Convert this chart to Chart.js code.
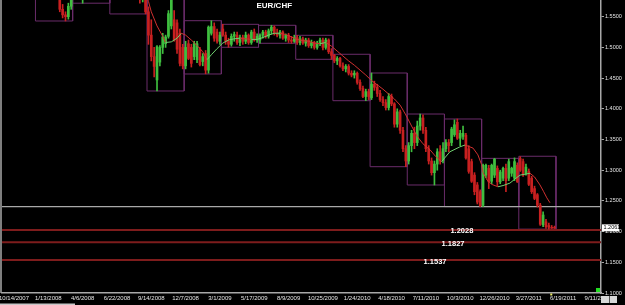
<!DOCTYPE html>
<html><head><meta charset="utf-8">
<script src="https://cdn.jsdelivr.net/npm/chart.js@4.4.0/dist/chart.umd.min.js"></script>
<style>html,body{margin:0;padding:0;background:#000;overflow:hidden}#wrap{width:625px;height:305px;position:relative}canvas{display:block}</style>
</head><body><div id="wrap"><canvas id="c" width="625" height="305" style="width:625px;height:305px"></canvas></div>
<script>
// ---- data (weekly bars, index 0 = 10/14/2007) ----
const chartTitle = "EUR/CHF";
const firstBar = 8;
const opens = [1.655,1.660,1.652,1.645,1.650,1.635,1.620,1.605,1.598,1.562,1.553,1.550,1.567,
1.590,1.600,1.595,1.585,1.592,1.605,1.615,1.610,1.612,1.622,1.615,1.620,1.630,
1.625,1.620,1.615,1.620,1.628,1.635,1.628,1.620,1.612,1.605,1.598,1.578,1.598,
1.558,1.520,1.485,1.447,1.476,1.500,1.506,1.518,1.535,1.545,1.540,1.523,1.500,
1.470,1.506,1.500,1.485,1.480,1.496,1.477,1.490,1.463,1.523,1.534,1.525,1.510,
1.530,1.520,1.510,1.505,1.518,1.520,1.508,1.516,1.510,1.520,1.508,1.525,1.512,
1.512,1.520,1.525,1.518,1.527,1.533,1.523,1.520,1.525,1.515,1.520,1.512,1.510,
1.516,1.508,1.514,1.507,1.512,1.503,1.508,1.500,1.507,1.512,1.500,1.512,1.493,
1.487,1.478,1.482,1.470,1.465,1.469,1.458,1.455,1.458,1.443,1.433,1.420,1.428,
1.418,1.440,1.435,1.425,1.415,1.410,1.402,1.420,1.408,1.375,1.395,1.365,1.335,
1.315,1.340,1.360,1.345,1.372,1.385,1.365,1.335,1.315,1.296,1.310,1.330,1.316,
1.335,1.345,1.345,1.358,1.378,1.352,1.355,1.357,1.335,1.314,1.292,1.276,1.265,
1.243,1.292,1.303,1.282,1.292,1.303,1.281,1.287,1.303,1.287,1.295,1.287,1.308,
1.319,1.314,1.295,1.298,1.287,1.270,1.260,1.243,1.211,1.216,1.210,1.207,1.207];
const highs = [1.665,1.668,1.660,1.655,1.658,1.645,1.630,1.615,1.605,1.570,1.558,1.572,1.595,
1.605,1.612,1.600,1.598,1.608,1.620,1.625,1.618,1.628,1.630,1.625,1.635,1.640,
1.635,1.630,1.625,1.632,1.640,1.642,1.635,1.630,1.620,1.612,1.610,1.602,1.605,
1.566,1.545,1.500,1.503,1.503,1.523,1.520,1.560,1.580,1.560,1.545,1.530,1.505,
1.510,1.512,1.505,1.510,1.510,1.500,1.490,1.495,1.535,1.5435,1.540,1.530,1.525,
1.5376,1.525,1.515,1.522,1.525,1.525,1.520,1.520,1.525,1.522,1.528,1.530,1.522,
1.522,1.528,1.528,1.530,1.536,1.535,1.530,1.528,1.527,1.522,1.523,1.518,1.520,
1.5197,1.518,1.517,1.515,1.515,1.512,1.510,1.510,1.515,1.515,1.515,1.514,1.498,
1.4888,1.485,1.484,1.475,1.472,1.472,1.462,1.462,1.460,1.447,1.437,1.432,1.432,
1.4583,1.445,1.440,1.430,1.420,1.415,1.425,1.424,1.410,1.400,1.398,1.370,1.340,
1.345,1.365,1.370,1.380,1.3915,1.390,1.370,1.340,1.320,1.315,1.335,1.340,1.345,
1.350,1.350,1.370,1.382,1.3834,1.365,1.372,1.360,1.340,1.318,1.296,1.280,1.268,
1.310,1.310,1.308,1.310,1.3193,1.307,1.300,1.305,1.310,1.318,1.305,1.320,1.312,
1.322,1.318,1.310,1.302,1.290,1.274,1.262,1.246,1.232,1.220,1.214,1.210,1.209];
const lows = [1.645,1.650,1.640,1.635,1.630,1.615,1.600,1.590,1.558,1.548,1.543,1.546,1.562,
1.585,1.590,1.578,1.572,1.588,1.600,1.605,1.600,1.608,1.610,1.605,1.615,1.620,
1.615,1.610,1.605,1.612,1.620,1.622,1.615,1.608,1.600,1.590,1.572,1.574,1.5545,
1.505,1.478,1.452,1.429,1.470,1.490,1.500,1.515,1.530,1.510,1.490,1.470,1.465,
1.465,1.480,1.468,1.480,1.475,1.470,1.470,1.457,1.458,1.520,1.510,1.507,1.505,
1.518,1.505,1.5002,1.502,1.510,1.505,1.503,1.505,1.506,1.505,1.505,1.510,1.508,
1.507,1.515,1.515,1.515,1.522,1.520,1.517,1.515,1.513,1.510,1.508,1.5067,1.508,
1.505,1.504,1.505,1.502,1.500,1.499,1.497,1.497,1.503,1.496,1.497,1.490,1.4806,
1.475,1.472,1.468,1.462,1.460,1.455,1.452,1.450,1.440,1.430,1.418,1.4132,1.415,
1.415,1.430,1.420,1.412,1.405,1.398,1.398,1.405,1.370,1.370,1.360,1.330,1.3057,
1.310,1.330,1.335,1.340,1.365,1.360,1.330,1.310,1.292,1.2759,1.300,1.310,1.312,
1.330,1.330,1.340,1.355,1.350,1.340,1.350,1.318,1.295,1.280,1.260,1.245,1.2406,
1.2406,1.288,1.270,1.278,1.288,1.275,1.278,1.283,1.265,1.283,1.290,1.283,1.280,
1.298,1.290,1.292,1.275,1.262,1.252,1.240,1.210,1.208,1.205,1.204,1.205,1.205];
const closes = [1.660,1.652,1.645,1.650,1.635,1.620,1.605,1.598,1.562,1.553,1.550,1.567,1.590,
1.600,1.595,1.585,1.592,1.605,1.615,1.610,1.612,1.622,1.615,1.620,1.630,1.625,
1.620,1.615,1.620,1.628,1.635,1.628,1.620,1.612,1.605,1.598,1.578,1.598,1.558,
1.520,1.485,1.469,1.501,1.500,1.517,1.517,1.555,1.577,1.512,1.497,1.474,1.470,
1.500,1.482,1.474,1.506,1.506,1.472,1.485,1.463,1.533,1.534,1.515,1.510,1.520,
1.520,1.510,1.505,1.518,1.521,1.508,1.516,1.510,1.520,1.508,1.525,1.512,1.518,
1.520,1.525,1.518,1.527,1.533,1.523,1.520,1.525,1.515,1.520,1.512,1.510,1.516,
1.508,1.514,1.507,1.512,1.503,1.508,1.500,1.507,1.512,1.500,1.512,1.493,1.487,
1.478,1.482,1.470,1.465,1.469,1.458,1.455,1.458,1.443,1.433,1.420,1.428,1.420,
1.440,1.435,1.425,1.415,1.410,1.402,1.420,1.408,1.375,1.395,1.365,1.335,1.315,
1.340,1.360,1.345,1.372,1.385,1.365,1.335,1.315,1.296,1.310,1.330,1.315,1.335,
1.345,1.340,1.367,1.374,1.352,1.360,1.360,1.320,1.298,1.282,1.265,1.248,1.242,
1.308,1.308,1.281,1.308,1.318,1.281,1.297,1.303,1.283,1.314,1.303,1.314,1.281,
1.300,1.292,1.305,1.277,1.265,1.254,1.243,1.212,1.227,1.208,1.207,1.206,1.2061];

const dateLabels = ["10/14/2007","1/13/2008","4/6/2008","6/22/2008","9/14/2008","12/7/2008",
"3/1/2009","5/17/2009","8/9/2009","10/25/2009","1/24/2010","4/18/2010","7/11/2010",
"10/3/2010","12/26/2010","3/27/2011","6/19/2011","9/11/2011"];
const barsPerDateLabel = 12;
const yTickValues = [1.10,1.15,1.20,1.25,1.30,1.35,1.40,1.45,1.50,1.55];

// quarterly range boxes (13 bars each)
const boxStartBars = [7.5,20.5,33.5,46.5,59.5,72.5,85.5,98.5,111.5,124.5,137.5,150.5,163.5,176.5];
const boxBars = 13;
const boxHighs = [1.67,1.65,1.66,1.62,1.5435,1.5376,1.536,1.5197,1.4888,1.4583,1.3915,1.3834,1.3193,1.3227];
const boxLows  = [1.543,1.572,1.5545,1.429,1.4567,1.5002,1.5067,1.4806,1.4132,1.3057,1.2759,1.2406,1.2406,1.2040];

// moving-average line
const maBars = [44,46,47,48,50,52,53,55,57,58.5,60,62,64,66,67.5,69,71,73,75,77,79,81,83,85,87,89,91,93,95,97,99,101,103,105,107,109,111,113,115,117,119,121,123,125,127,129,131,133,135,137,139,141,143,145.5,147.5,149.5,152.4,155.9,157.7,160.5,162.2,163.5,164,165.4,167,169.2,171,173.4,175,176.9,180.4,182,183.9,185.2,186.3,187.4];
const maValues = [1.612,1.590,1.575,1.558,1.535,1.518,1.508,1.509,1.515,1.523,1.520,1.512,1.503,1.493,1.480,1.488,1.498,1.507,1.512,1.514,1.515,1.514,1.513,1.513,1.516,1.520,1.523,1.523,1.521,1.517,1.513,1.511,1.510,1.507,1.506,1.508,1.502,1.494,1.486,1.478,1.471,1.463,1.455,1.446,1.439,1.432,1.424,1.416,1.406,1.390,1.372,1.355,1.343,1.333,1.322,1.314,1.330,1.338,1.341,1.336,1.325,1.309,1.296,1.284,1.277,1.273,1.275,1.279,1.285,1.292,1.295,1.289,1.276,1.265,1.255,1.247];

const levelValues = [1.2028,1.1827,1.1537];
const levelLabelBars = [156.6,153.5,147.2];
const rangeLineValue = 1.2406;
const lastPrice = 1.2061;

// ---- styles ----
const GREEN = '#3fbf3f', RED = '#c82020', MA_GREEN = '#6fd06f', MA_RED = '#d03030';
const BOX = '#6a2c6a', LEVEL = '#7e1c1c', AXIS = '#a8a8a8', TXT = '#e4e4e4';
const FONT = '"Liberation Sans", Arial, sans-serif';
const X_MIN = -4.2, X_MAX = 205.24;

const bars = opens.map((o,k)=>firstBar+k);
const isUp = k => closes[k] >= opens[k];
const wickData = bars.map((b,k)=>({x:b, y:[lows[k], highs[k]]}));
const bodyData = bars.map((b,k)=>({x:b, y:[opens[k], closes[k]]}));

const boxData = [];
boxStartBars.forEach((s,k)=>{
  const e = s + boxBars;
  boxData.push({x:s,y:boxLows[k]},{x:s,y:boxHighs[k]},{x:e,y:boxHighs[k]},{x:e,y:boxLows[k]},{x:s,y:boxLows[k]},{x:e,y:null});
});
const maData = maBars.map((b,k)=>({x:b, y:maValues[k]}));
const hline = v => [{x:X_MIN,y:v},{x:X_MAX,y:v}];

const datasets = [
  {type:'line', data:boxData, borderColor:BOX, borderWidth:1, pointRadius:0, spanGaps:false, order:6},
  {type:'line', data:hline(rangeLineValue), borderColor:AXIS, borderWidth:1.2, pointRadius:0, order:5},
  ...levelValues.map(v=>({type:'line', data:hline(v), borderColor:LEVEL, borderWidth:2, pointRadius:0, order:5})),
  {type:'bar', data:wickData, grouped:false, barThickness:1, backgroundColor:c=>isUp(c.dataIndex)?GREEN:RED, order:4},
  {type:'bar', data:bodyData, grouped:false, barThickness:2, backgroundColor:c=>isUp(c.dataIndex)?GREEN:RED, order:3},
  {type:'line', data:maData, borderWidth:1, pointRadius:0, order:1, borderColor:MA_RED,
   segment:{borderColor:c=>c.p1.parsed.y>=c.p0.parsed.y?MA_GREEN:MA_RED}}
];

const overlay = {
  id:'overlay',
  afterDatasetsDraw(chart){
    const {ctx, scales:{x,y}} = chart;
    ctx.save();
    ctx.fillStyle = '#fff';
    ctx.font = 'bold 7.5px ' + FONT;
    ctx.textAlign = 'center'; ctx.textBaseline = 'middle';
    levelValues.forEach((v,k)=>{
      ctx.fillText(v.toFixed(4), x.getPixelForValue(levelLabelBars[k]), y.getPixelForValue(v)+1.5);
    });
    ctx.restore();
  },
  afterDraw(chart){
    const {ctx, chartArea:a, scales:{x,y}} = chart;
    ctx.save();
    ctx.strokeStyle = AXIS; ctx.lineWidth = 1.5;
    ctx.beginPath(); ctx.moveTo(a.left-1, a.top); ctx.lineTo(a.left-1, a.bottom); ctx.stroke();
    ctx.fillStyle = '#fff'; ctx.font = 'bold 8px ' + FONT;
    ctx.textAlign = 'center'; ctx.textBaseline = 'middle';
    ctx.fillText(chartTitle, x.getPixelForValue(91), a.top + 5.5);
    const py = y.getPixelForValue(lastPrice);
    ctx.fillStyle = '#fff'; ctx.fillRect(a.right+1, py-3.5, 17, 7);
    ctx.fillStyle = '#000'; ctx.font = '5.5px ' + FONT; ctx.textAlign = 'left';
    ctx.fillText(lastPrice.toFixed(4), a.right+2.5, py);
    ctx.fillStyle = '#22dd22'; ctx.fillRect(a.right-5, a.bottom-5, 4, 4);
    ctx.fillStyle = '#eeee66'; ctx.fillRect(x.getPixelForValue(187.5), a.bottom+0.5, 2, 2);
    ctx.fillStyle = '#d8d8d8'; ctx.fillRect(a.right, a.bottom+3, 16, 7);
    ctx.fillStyle = '#555'; ctx.fillRect(a.right+8, a.bottom+3, 1, 7);
    ctx.fillStyle = '#c8c8c8'; ctx.fillRect(0, a.bottom+10.5, 75, 1.5);
    ctx.restore();
  }
};

new Chart(document.getElementById('c'), {
  type:'bar',
  data:{datasets},
  options:{
    responsive:false, maintainAspectRatio:false, animation:false, devicePixelRatio:1,
    layout:{padding:{left:2,right:0,top:0,bottom:0}},
    plugins:{legend:{display:false}, tooltip:{enabled:false}, title:{display:false}},
    scales:{
      x:{type:'linear', min:X_MIN, max:X_MAX, offset:false,
        grid:{display:false, offset:false, drawTicks:false, tickLength:0},
        border:{display:true, color:AXIS, width:1.5},
        afterBuildTicks:s=>{ s.ticks = dateLabels.map((l,k)=>({value:k*barsPerDateLabel})); },
        ticks:{autoSkip:false, maxRotation:0, minRotation:0, padding:2, color:TXT,
          font:{size:6, family:FONT},
          callback:v=>dateLabels[Math.round(v/barsPerDateLabel)]},
        afterFit:s=>{ s.height = 12; s.paddingLeft = 0; s.paddingRight = 0; }
      },
      y:{type:'linear', position:'right', min:1.1, max:1.5772,
        grid:{drawOnChartArea:false, drawTicks:true, tickLength:3, color:AXIS},
        border:{display:true, color:AXIS, width:1.5},
        afterBuildTicks:s=>{ s.ticks = yTickValues.map(v=>({value:v})); },
        ticks:{padding:1, color:TXT, font:{size:5.5, family:FONT}, callback:v=>Number(v).toFixed(4)},
        afterFit:s=>{ s.width = 24; s.paddingTop = 0; s.paddingBottom = 0; }
      }
    }
  },
  plugins:[overlay]
});
</script>
</body></html>
